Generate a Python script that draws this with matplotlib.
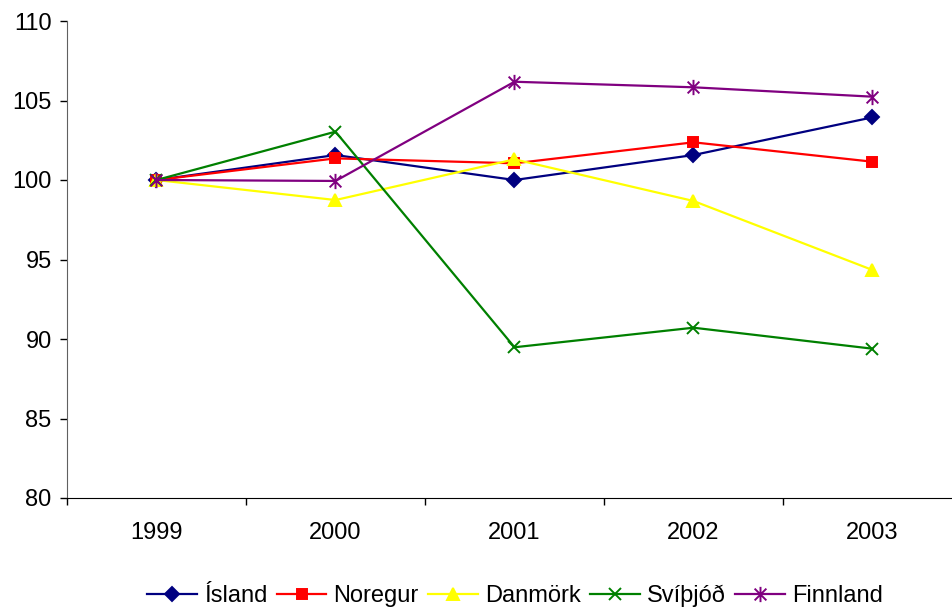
import matplotlib.pyplot as plt
import numpy as np
from matplotlib.path import Path

plt.rcParams['font.family'] = ['Liberation Sans', 'DejaVu Sans']

# Data
years = ['1999', '2000', '2001', '2002', '2003']
island = [100, 101.57, 100.0, 101.57, 103.94]
noregur = [100, 101.36, 101.05, 102.37, 101.15]
danmork = [100, 98.74, 101.3, 98.68, 94.34]
svithjod = [100, 103.04, 89.48, 90.71, 89.39]
finnland = [100, 99.94, 106.18, 105.83, 105.24]

# Excel-like star marker: an x with a vertical bar
star = Path([(-1, -1), (1, 1), (-1, 1), (1, -1), (0, -1.3), (0, 1.3)],
            [Path.MOVETO, Path.LINETO, Path.MOVETO, Path.LINETO, Path.MOVETO, Path.LINETO])

series = [
    ('Ísland', island, '#000080', 'D', 7),
    ('Noregur', noregur, '#FF0000', 's', 7.5),
    ('Danmörk', danmork, '#FFFF00', '^', 9),
    ('Svíþjóð', svithjod, '#008000', 'x', 8),
    ('Finnland', finnland, '#800080', star, 11),
]

fig = plt.figure(figsize=(9.53, 6.10), dpi=100)
ax = fig.add_axes([67 / 953, 112 / 610, 895 / 953, 477 / 610])

x = np.arange(len(years))
for name, vals, col, mk, ms in series:
    ax.plot(x, vals, color=col, lw=1.6, marker=mk, markersize=ms,
            markeredgecolor=col, markerfacecolor=col, markeredgewidth=1.4,
            label=name, clip_on=False)

ax.set_ylim(80, 110)
ax.set_yticks(np.arange(80, 111, 5))
ax.set_xlim(-0.5, len(years) - 0.5)

# ticks at the category boundaries, labels at the centres
ax.set_xticks(np.arange(-0.5, len(years), 1))
ax.set_xticklabels([])
ax.set_xticks(x, minor=True)
ax.set_xticklabels(years, minor=True)
ax.tick_params(axis='x', which='major', direction='out', length=5, width=1)
ax.tick_params(axis='x', which='minor', length=0, pad=17, labelsize=17)
ax.tick_params(axis='y', direction='out', length=5, width=1, pad=6, labelsize=17)

for s in ['top', 'right']:
    ax.spines[s].set_visible(False)
ax.spines['left'].set_color('#606060')
ax.spines['bottom'].set_color('black')

ax.legend(loc='center', bbox_to_anchor=(515 / 953, 14 / 610),
          bbox_transform=fig.transFigure, ncol=5, frameon=False,
          fontsize=17, handlelength=2.1, handletextpad=0.3, columnspacing=0.4)

fig.savefig('out.png', dpi=100)
